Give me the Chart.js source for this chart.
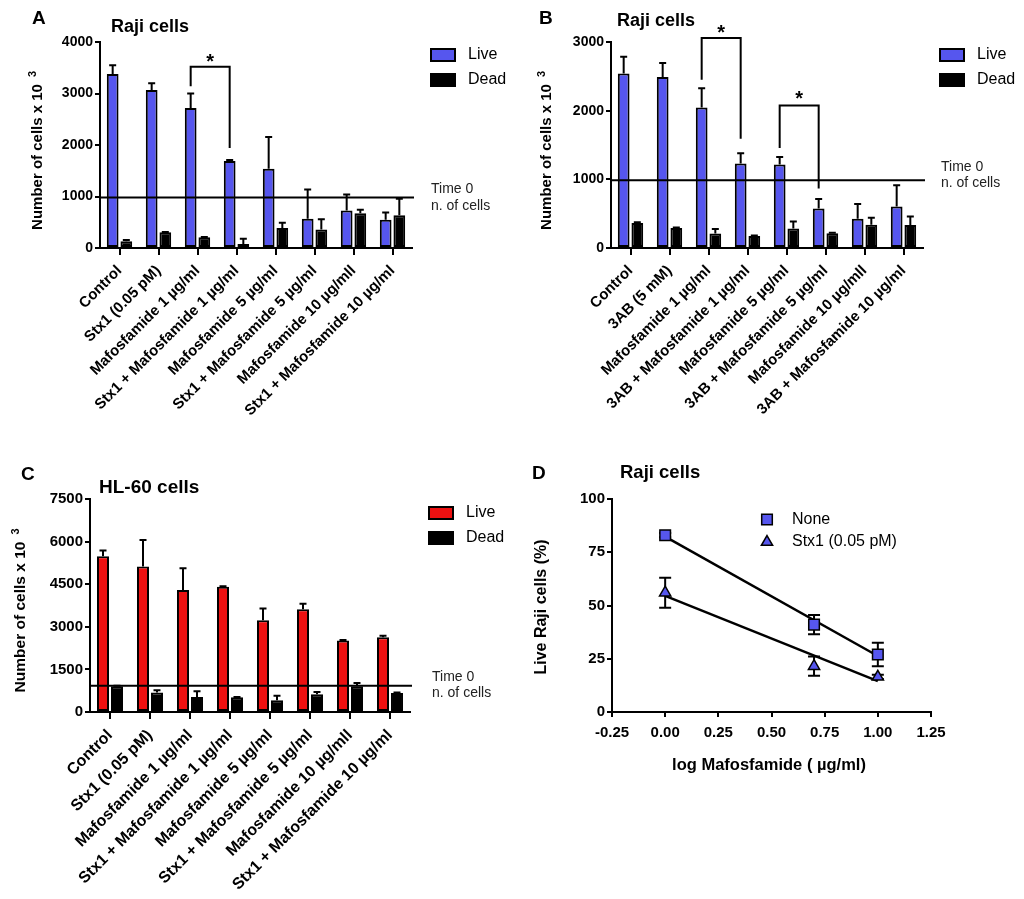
<!DOCTYPE html>
<html>
<head>
<meta charset="utf-8">
<script src="https://cdn.jsdelivr.net/npm/chart.js@4.4.1/dist/chart.umd.min.js"></script>
<style>
  body { margin: 0; background: #fff; width: 1024px; height: 899px; position: relative; overflow: hidden; }
  .panel { position: absolute; }
</style>
</head>
<body>
<div class="panel" style="left:0;top:0;width:512px;height:450px"><canvas id="chartA"></canvas></div>
<div class="panel" style="left:512px;top:0;width:512px;height:450px"><canvas id="chartB"></canvas></div>
<div class="panel" style="left:0;top:450px;width:512px;height:449px"><canvas id="chartC"></canvas></div>
<div class="panel" style="left:512px;top:450px;width:512px;height:449px"><canvas id="chartD"></canvas></div>
<script>
// ---- data ----
var labelsStx = ['Control', 'Stx1 (0.05 pM)', 'Mafosfamide 1 µg/ml', 'Stx1 + Mafosfamide 1 µg/ml',
  'Mafosfamide 5 µg/ml', 'Stx1 + Mafosfamide 5 µg/ml', 'Mafosfamide 10 µg/mll', 'Stx1 + Mafosfamide 10 µg/ml'];
var labels3AB = ['Control', '3AB (5 mM)', 'Mafosfamide 1 µg/ml', '3AB + Mafosfamide 1 µg/ml',
  'Mafosfamide 5 µg/ml', '3AB + Mafosfamide 5 µg/ml', 'Mafosfamide 10 µg/mll', '3AB + Mafosfamide 10 µg/ml'];

// A: Raji cells, Stx1 + mafosfamide
var liveA    = [3380, 3070, 2720, 1690, 1540, 570, 730, 550];
var liveErrA = [170, 130, 280, 20, 615, 565, 310, 140];
var deadA    = [130, 305, 207, 80, 390, 360, 675, 635];
var deadErrA = [25, 8, 8, 100, 100, 200, 70, 320];
var time0A = 980;

// B: Raji cells, 3AB + mafosfamide
var liveB    = [2540, 2490, 2045, 1230, 1215, 575, 425, 605];
var liveErrB = [245, 205, 280, 150, 110, 140, 215, 310];
var deadB    = [365, 292, 210, 175, 285, 215, 340, 335];
var deadErrB = [10, 8, 68, 8, 100, 8, 102, 125];
var time0B = 985;

// C: HL-60 cells
var liveC    = [5480, 5125, 4300, 4410, 3235, 3620, 2515, 2635];
var liveErrC = [210, 930, 765, 20, 410, 190, 20, 50];
var deadC    = [910, 685, 530, 520, 410, 625, 905, 670];
var deadErrC = [10, 80, 200, 10, 165, 80, 120, 20];
var time0C = 920;

// D: live Raji cells vs log mafosfamide
var logDose  = [0, 0.7, 1.0];
var noneD    = [83, 41, 27];
var noneErrD = [1, 4.5, 5.5];
var stxD     = [56, 21.5, 16.5];
var stxErrD  = [7, 4.5, 1];
var fitX     = [0, 1.0];
var fitNone  = [82.3, 26.3];
var fitStx   = [54.5, 14.5];

var FONT = "'Liberation Sans', Arial, Helvetica, sans-serif";
var BLUE = '#5656ee';
var RED = '#ee1111';

Chart.defaults.font.family = FONT;
Chart.defaults.color = '#000';
Chart.defaults.animation = false;

function drawMarker(ctx, shape, x, y, r, fill) {
  ctx.beginPath();
  if (shape === 'triangle') {
    var s = Math.sin(Math.PI * 2 / 3) * r, c = Math.cos(Math.PI * 2 / 3) * r;
    ctx.moveTo(x, y - r);
    ctx.lineTo(x + s, y - c);
    ctx.lineTo(x - s, y - c);
    ctx.closePath();
  } else {
    var h = Math.SQRT1_2 * r;
    ctx.rect(x - h, y - h, 2 * h, 2 * h);
  }
  ctx.fillStyle = fill;
  ctx.fill();
  ctx.lineWidth = 1.5;
  ctx.strokeStyle = '#000';
  ctx.stroke();
}

// extra drawing: error bars, time 0 line, brackets, titles, legends
var decor = {
  id: 'decor',
  beforeDatasetsDraw: function (chart, args, o) {
    if (!o.symErrors) return;
    var ctx = chart.ctx, ys = chart.scales.y;
    ctx.save();
    ctx.strokeStyle = '#000';
    ctx.lineWidth = 2;
    o.symErrors.forEach(function (errs, di) {
      var meta = chart.getDatasetMeta(di);
      var pts = chart.data.datasets[di].data;
      meta.data.forEach(function (el, i) {
        var a = ys.getPixelForValue(pts[i].y + errs[i]);
        var b = ys.getPixelForValue(pts[i].y - errs[i]);
        ctx.beginPath();
        ctx.moveTo(el.x, a); ctx.lineTo(el.x, b);
        ctx.moveTo(el.x - 6, a); ctx.lineTo(el.x + 6, a);
        ctx.moveTo(el.x - 6, b); ctx.lineTo(el.x + 6, b);
        ctx.stroke();
      });
    });
    ctx.restore();
  },
  afterDatasetsDraw: function (chart, args, o) {
    var ctx = chart.ctx, ca = chart.chartArea, ys = chart.scales.y;
    ctx.save();
    ctx.strokeStyle = '#000';
    ctx.fillStyle = '#000';
    ctx.lineWidth = 2;
    (o.barErrors || []).forEach(function (errs, di) {
      var meta = chart.getDatasetMeta(di);
      var vals = chart.data.datasets[di].data;
      meta.data.forEach(function (el, i) {
        var yTop = ys.getPixelForValue(vals[i] + errs[i]);
        ctx.beginPath();
        ctx.moveTo(el.x, el.y); ctx.lineTo(el.x, yTop);
        ctx.moveTo(el.x - 3.5, yTop); ctx.lineTo(el.x + 3.5, yTop);
        ctx.stroke();
      });
    });
    if (o.time0 != null) {
      var y0 = ys.getPixelForValue(o.time0);
      ctx.beginPath();
      ctx.moveTo(ca.left, y0); ctx.lineTo(ca.right + 2, y0);
      ctx.stroke();
    }
    (o.brackets || []).forEach(function (b) {
      var m = chart.getDatasetMeta(0);
      var x1 = m.data[b.from].x, x2 = m.data[b.to].x;
      var yt = ys.getPixelForValue(b.top);
      ctx.beginPath();
      ctx.moveTo(x1, ys.getPixelForValue(b.left));
      ctx.lineTo(x1, yt); ctx.lineTo(x2, yt);
      ctx.lineTo(x2, ys.getPixelForValue(b.right));
      ctx.stroke();
      ctx.font = 'bold 20px ' + FONT;
      ctx.textAlign = 'center';
      ctx.textBaseline = 'alphabetic';
      ctx.fillText('*', (x1 + x2) / 2, ys.getPixelForValue(b.star) + 11);
    });
    ctx.restore();
  },
  afterDraw: function (chart, args, o) {
    var ctx = chart.ctx;
    ctx.save();
    ctx.fillStyle = '#000';
    if (o.letter) {
      ctx.font = 'bold 19px ' + FONT;
      ctx.textAlign = 'left'; ctx.textBaseline = 'middle';
      ctx.fillText(o.letter.text, o.letter.x, o.letter.y);
    }
    if (o.title) {
      ctx.font = 'bold ' + o.title.size + 'px ' + FONT;
      ctx.textAlign = 'left'; ctx.textBaseline = 'middle';
      ctx.fillText(o.title.text, o.title.x, o.title.y);
    }
    if (o.ytitle) {
      var t = o.ytitle;
      ctx.save();
      ctx.translate(t.x, t.y);
      ctx.rotate(-Math.PI / 2);
      ctx.font = 'bold ' + t.size + 'px ' + FONT;
      ctx.textAlign = 'center'; ctx.textBaseline = 'middle';
      ctx.fillText(t.text, 0, 0);
      if (t.sup) {
        var w = ctx.measureText(t.text).width;
        ctx.font = 'bold 11px ' + FONT;
        ctx.textAlign = 'left';
        ctx.fillText(t.sup, w / 2 + 7, -5);
      }
      ctx.restore();
    }
    if (o.xtitle) {
      ctx.font = 'bold ' + o.xtitle.size + 'px ' + FONT;
      ctx.textAlign = 'center'; ctx.textBaseline = 'middle';
      ctx.fillText(o.xtitle.text, o.xtitle.x, o.xtitle.y);
    }
    if (o.time0Text) {
      ctx.font = '14px ' + FONT;
      ctx.fillStyle = '#222';
      ctx.textAlign = 'left'; ctx.textBaseline = 'middle';
      ctx.fillText('Time 0', o.time0Text.x, o.time0Text.y[0]);
      ctx.fillText('n. of cells', o.time0Text.x, o.time0Text.y[1]);
      ctx.fillStyle = '#000';
    }
    if (o.legend) {
      var L = o.legend;
      L.items.forEach(function (it, i) {
        var cy = L.y + i * L.gap;
        if (it.shape) {
          drawMarker(ctx, it.shape, L.x + 12, cy, it.shape === 'triangle' ? 6.5 : 7.5, it.fill);
        } else {
          ctx.fillStyle = it.fill;
          ctx.fillRect(L.x, cy - 6, 24, 12);
          ctx.lineWidth = 2;
          ctx.strokeStyle = '#000';
          ctx.strokeRect(L.x, cy - 6, 24, 12);
        }
        ctx.fillStyle = '#000';
        ctx.font = '16px ' + FONT;
        ctx.textAlign = 'left'; ctx.textBaseline = 'middle';
        ctx.fillText(it.text, L.textX, cy);
      });
    }
    ctx.restore();
  }
};

function makeBarChart(id, labels, live, liveErr, dead, deadErr, liveColor, cfg) {
  return new Chart(document.getElementById(id), {
    type: 'bar',
    data: {
      labels: labels,
      datasets: [
        { label: 'Live', data: live, backgroundColor: liveColor, borderColor: '#000', borderWidth: 2,
          borderSkipped: false, categoryPercentage: 0.7, barPercentage: 0.86 },
        { label: 'Dead', data: dead, backgroundColor: '#000', borderColor: '#000', borderWidth: 2,
          borderSkipped: false, categoryPercentage: 0.7, barPercentage: 0.86 }
      ]
    },
    options: {
      responsive: true,
      maintainAspectRatio: false,
      layout: { padding: { top: cfg.top, right: cfg.right, left: 0, bottom: 0 } },
      plugins: {
        legend: { display: false },
        tooltip: { enabled: false },
        decor: {
          barErrors: [liveErr, deadErr],
          time0: cfg.time0,
          time0Text: cfg.time0Text,
          brackets: cfg.brackets,
          letter: cfg.letter,
          title: cfg.title,
          ytitle: cfg.ytitle,
          legend: { x: cfg.legendX, y: cfg.legendY, gap: 25, textX: cfg.legendX + 37,
            items: [{ text: 'Live', fill: liveColor }, { text: 'Dead', fill: '#000' }] }
        }
      },
      scales: {
        x: {
          offset: true,
          grid: { offset: false, drawOnChartArea: false, tickLength: 7, color: '#000', lineWidth: 2 },
          border: { color: '#000', width: 2 },
          ticks: { autoSkip: false, minRotation: 45, maxRotation: 45, padding: 7,
            font: { weight: 'bold', size: cfg.xFont } },
          afterFit: function (s) { s.height = cfg.xHeight; }
        },
        y: {
          min: 0, max: cfg.yMax,
          grid: { drawOnChartArea: false, tickLength: 5, color: '#000', lineWidth: 2 },
          border: { color: '#000', width: 2 },
          ticks: { stepSize: cfg.yStep, padding: 2, font: { weight: 'bold', size: cfg.yFont },
            callback: function (v) { return String(v); } },
          afterFit: function (s) { s.width = cfg.yWidth; }
        }
      }
    },
    plugins: [decor]
  });
}

makeBarChart('chartA', labelsStx, liveA, liveErrA, deadA, deadErrA, BLUE, {
  top: 42, right: 100, yWidth: 100, xHeight: 202, yMax: 4000, yStep: 1000, xFont: 15, yFont: 14,
  time0: time0A, time0Text: { x: 431, y: [189.5, 206] },
  brackets: [{ from: 2, to: 3, top: 3520, left: 3140, right: 1940, star: 3700 }],
  letter: { text: 'A', x: 32, y: 18.5 },
  title: { text: 'Raji cells', x: 111, y: 27.5, size: 18 },
  ytitle: { text: 'Number of cells x 10', sup: '3', x: 38, y: 157, size: 15 },
  legendX: 431, legendY: 55
});

makeBarChart('chartB', labels3AB, liveB, liveErrB, deadB, deadErrB, BLUE, {
  top: 42, right: 101, yWidth: 99, xHeight: 202, yMax: 3000, yStep: 1000, xFont: 15, yFont: 14,
  time0: time0B, time0Text: { x: 429, y: [167, 183.5] },
  brackets: [{ from: 2, to: 3, top: 3060, left: 2450, right: 1590, star: 3200 },
             { from: 4, to: 5, top: 2075, left: 1455, right: 865, star: 2245 }],
  letter: { text: 'B', x: 27, y: 19 },
  title: { text: 'Raji cells', x: 105, y: 21, size: 18 },
  ytitle: { text: 'Number of cells x 10', sup: '3', x: 35, y: 157, size: 15 },
  legendX: 428, legendY: 55
});

makeBarChart('chartC', labelsStx, liveC, liveErrC, deadC, deadErrC, RED, {
  top: 49, right: 102, yWidth: 90, xHeight: 187, yMax: 7500, yStep: 1500, xFont: 16, yFont: 15,
  time0: time0C, time0Text: { x: 432, y: [226.7, 243] },
  brackets: [],
  letter: { text: 'C', x: 21, y: 25 },
  title: { text: 'HL-60 cells', x: 99, y: 38, size: 19 },
  ytitle: { text: 'Number of cells x 10', sup: '3', x: 21, y: 167, size: 15.5 },
  legendX: 429, legendY: 63
});

new Chart(document.getElementById('chartD'), {
  type: 'scatter',
  data: {
    datasets: [
      { label: 'None', data: logDose.map(function (x, i) { return { x: x, y: noneD[i] }; }),
        pointStyle: 'rect', pointRadius: 7.5, pointBackgroundColor: BLUE, pointBorderColor: '#000',
        pointBorderWidth: 1.5, showLine: false, order: 1 },
      { label: 'Stx1 (0.05 pM)', data: logDose.map(function (x, i) { return { x: x, y: stxD[i] }; }),
        pointStyle: 'triangle', pointRadius: 6.5, pointBackgroundColor: BLUE, pointBorderColor: '#000',
        pointBorderWidth: 1.5, showLine: false, order: 1 },
      { type: 'line', label: 'fit none', data: fitX.map(function (x, i) { return { x: x, y: fitNone[i] }; }),
        borderColor: '#000', borderWidth: 2.5, pointRadius: 0, order: 2 },
      { type: 'line', label: 'fit stx', data: fitX.map(function (x, i) { return { x: x, y: fitStx[i] }; }),
        borderColor: '#000', borderWidth: 2.5, pointRadius: 0, order: 2 }
    ]
  },
  options: {
    responsive: true,
    maintainAspectRatio: false,
    layout: { padding: { top: 49, right: 93, left: 0, bottom: 0 } },
    plugins: {
      legend: { display: false },
      tooltip: { enabled: false },
      decor: {
        symErrors: [noneErrD, stxErrD],
        letter: { text: 'D', x: 20, y: 24 },
        title: { text: 'Raji cells', x: 108, y: 23, size: 18.5 },
        ytitle: { text: 'Live Raji cells (%)', x: 30, y: 157, size: 16 },
        xtitle: { text: 'log Mafosfamide ( µg/ml)', x: 257, y: 315, size: 16.5 },
        legend: { x: 243, y: 69.5, gap: 22.5, textX: 280,
          items: [{ text: 'None', fill: BLUE, shape: 'rect' }, { text: 'Stx1 (0.05 pM)', fill: BLUE, shape: 'triangle' }] }
      }
    },
    scales: {
      x: {
        type: 'linear', min: -0.25, max: 1.25,
        grid: { drawOnChartArea: false, tickLength: 5, color: '#000', lineWidth: 2 },
        border: { color: '#000', width: 2 },
        ticks: { stepSize: 0.25, padding: 7, font: { weight: 'bold', size: 15 },
          callback: function (v) { return v.toFixed(2); } },
        afterFit: function (s) { s.height = 187; }
      },
      y: {
        min: 0, max: 100,
        grid: { drawOnChartArea: false, tickLength: 5, color: '#000', lineWidth: 2 },
        border: { color: '#000', width: 2 },
        ticks: { stepSize: 25, padding: 2, font: { weight: 'bold', size: 15 } },
        afterFit: function (s) { s.width = 100; }
      }
    }
  },
  plugins: [decor]
});
</script>
</body>
</html>
